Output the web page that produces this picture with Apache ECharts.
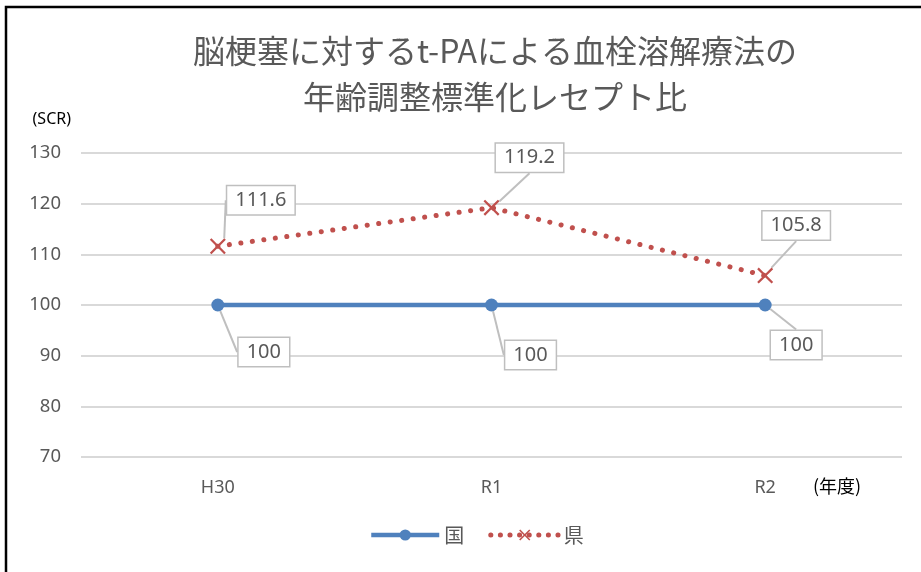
<!DOCTYPE html>
<html>
<head>
<meta charset="utf-8">
<script src="https://cdn.jsdelivr.net/npm/echarts@6/dist/echarts.min.js"></script>
<style>
  html, body { margin: 0; padding: 0; background: #fff; }
  #chart { width: 921px; height: 572px; }
</style>
</head>
<body>
<div id="chart"></div>
<script>
// data
const years = ["H30", "R1", "R2"];
const kuni = [100, 100, 100];
const ken = [111.6, 119.2, 105.8];
const yTicks = { min: 70, max: 130, step: 10 };

// callout offsets (label centre relative to point)
const kenShift = [[43, -46], [38, -50], [31, -50]];
const kuniShift = [[46, 47], [39, 50], [31, 40]];

const grey = "#595959";
const font = "'Noto Sans', 'Noto Sans CJK JP', sans-serif";
const crossPath = "path://M0,1L1,0L5,4L9,0L10,1L6,5L10,9L9,10L5,6L1,10L0,9L4,5Z";
const blue = "#4f81bd";
const red = "#c0504d";
const dots = [0.1, 11.5];

const callout = {
  show: true,
  position: "inside",
  color: grey,
  fontSize: 20,
  fontFamily: font,
  backgroundColor: "#fff",
  borderColor: "#bfbfbf",
  borderWidth: 1.5,
  padding: [5, 8, 3, 8],
  formatter: (p) => String(p.value)
};

const chart = echarts.init(document.querySelector("#chart"));

chart.setOption({
  backgroundColor: "#fff",
  animation: false,
  title: {
    text: "脳梗塞に対するt-PAによる血栓溶解療法の\n年齢調整標準化レセプト比",
    left: 490,
    textAlign: "center",
    top: 23,
    textStyle: {
      color: grey,
      fontSize: 32,
      fontWeight: "normal",
      lineHeight: 46,
      fontFamily: "'Noto Sans CJK JP', sans-serif"
    }
  },
  graphic: [
    {
      type: "rect",
      shape: { x: 6, y: 7, width: 940, height: 600 },
      style: { fill: "none", stroke: "#000", lineWidth: 2.5 },
      silent: true
    }
  ],
  legend: {
    bottom: 22,
    left: 364,
    itemWidth: 68,
    itemHeight: 14,
    itemGap: 24,
    textStyle: { color: grey, fontSize: 20, fontFamily: "'Noto Sans CJK JP', sans-serif" },
    data: [
      { name: "国", lineStyle: { width: 4.5, color: blue } },
      { name: "県", lineStyle: { width: 5, color: red, type: [0.1, 9.5], cap: "round" } }
    ]
  },
  grid: { left: 81, right: 19, top: 153, bottom: 115 },
  xAxis: {
    type: "category",
    data: years,
    axisLine: { show: false },
    axisTick: { show: false },
    axisLabel: { color: grey, fontSize: 18, fontFamily: font, margin: 22 },
    name: "(年度)",
    nameLocation: "end",
    nameGap: -89,
    nameTextStyle: {
      color: "#000",
      fontSize: 18,
      fontFamily: "'Noto Sans CJK JP', sans-serif",
      verticalAlign: "top",
      padding: [20, 0, 0, 0]
    }
  },
  yAxis: {
    type: "value",
    min: yTicks.min,
    max: yTicks.max,
    interval: yTicks.step,
    axisLine: { show: false },
    axisTick: { show: false },
    axisLabel: { color: grey, fontSize: 18.5, fontFamily: font, margin: 20 },
    splitLine: { lineStyle: { color: "#d9d9d9", width: 2 } },
    name: "(SCR)",
    nameLocation: "end",
    nameGap: 26,
    nameTextStyle: {
      color: "#000",
      fontSize: 16,
      fontFamily: font,
      align: "right",
      padding: [0, 10, 0, 0]
    }
  },
  series: [
    {
      name: "国",
      type: "line",
      data: kuni,
      symbol: "circle",
      symbolSize: 13,
      z: 3,
      lineStyle: { color: blue, width: 4.5 },
      itemStyle: { color: blue },
      label: callout,
      labelLine: { show: true, lineStyle: { color: "#bfbfbf", width: 2 } },
      labelLayout: (p) => ({ dx: kuniShift[p.dataIndex][0], dy: kuniShift[p.dataIndex][1] })
    },
    {
      name: "県",
      type: "line",
      data: ken,
      symbol: crossPath,
      symbolSize: 16,
      z: 2,
      lineStyle: { color: red, width: 5, type: dots, cap: "round" },
      itemStyle: { color: red },
      label: callout,
      labelLine: { show: true, lineStyle: { color: "#bfbfbf", width: 2 } },
      labelLayout: (p) => ({ dx: kenShift[p.dataIndex][0], dy: kenShift[p.dataIndex][1] })
    }
  ]
});
</script>
</body>
</html>
